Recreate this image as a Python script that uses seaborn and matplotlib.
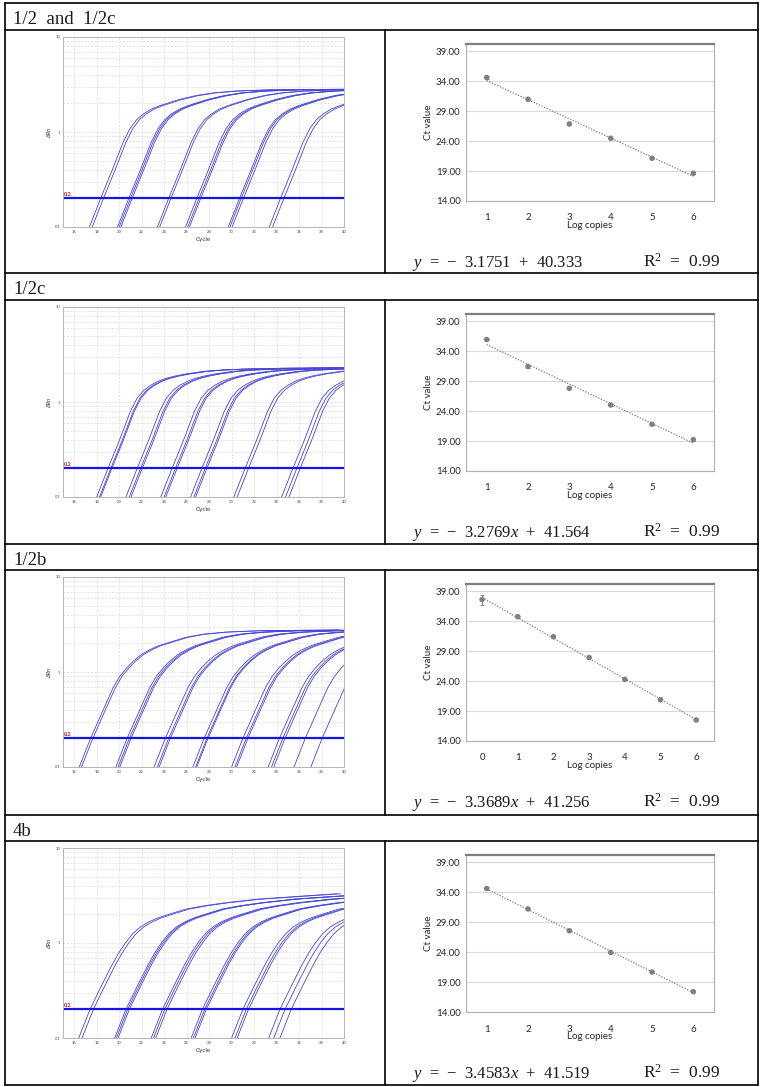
import numpy as np
import pandas as pd
import matplotlib
matplotlib.use('Agg')
import matplotlib.pyplot as plt
import seaborn as sns
from matplotlib.lines import Line2D
from matplotlib.ticker import LogLocator, NullFormatter, FormatStrFormatter

# ----
# Data
# ----
titles = ['1/2  and  1/2c', '1/2c', '1/2b', '4b']
eq_texts = [r'$y$  =  −  3.1751  +  40.333',
            r'$y$  =  −  3.2769$x$  +  41.564',
            r'$y$  =  −  3.3689$x$  +  41.256',
            r'$y$  =  −  3.4583$x$  +  41.519']
r2_text = r'R$^{2}$  =  0.99'

# amplification curve shape (cycles from the 0.2 crossing, dRn)
prof_offset = [-3, -1, 0, 1, 2, 2.6, 3.2, 3.8, 4.5, 5.2, 6, 7, 8.5, 10, 12, 15, 22]
prof_drn_1 = [0.025, 0.1, 0.2, 0.39, 0.78, 1.08, 1.35, 1.55, 1.74, 1.88, 2.02, 2.2,
              2.42, 2.58, 2.7, 2.78, 2.82]
prof_drn_2 = [0.025, 0.1, 0.2, 0.39, 0.8, 1.1, 1.33, 1.5, 1.66, 1.78, 1.88, 1.98,
              2.1, 2.17, 2.22, 2.26, 2.3]
prof_drn_3 = [0.027, 0.1, 0.2, 0.37, 0.68, 0.9, 1.1, 1.3, 1.52, 1.7, 1.88, 2.05,
              2.32, 2.5, 2.63, 2.72, 2.77]
prof_drn_4 = [0.035, 0.1, 0.2, 0.35, 0.6, 0.8, 1.02, 1.25, 1.48, 1.66, 1.83, 2.0,
              2.27, 2.45, 2.65, 2.9, 3.3]

# threshold crossing of each well
ct_amp_1 = [18.35, 18.6, 20.85, 21.0, 21.15, 24.4, 24.6, 26.9, 27.1, 27.25,
            30.7, 30.85, 31.05, 34.35, 34.65]
ct_amp_2 = [19.0, 19.25, 19.35, 21.6, 21.9, 22.05, 24.7, 25.0, 25.15, 27.35, 27.65,
            27.8, 31.2, 31.5, 35.45, 35.8, 36.1]
ct_amp_3 = [17.45, 17.65, 20.7, 20.9, 21.05, 24.1, 24.4, 24.55, 27.55, 27.8, 27.9,
            31.0, 31.3, 31.45, 34.25, 34.55, 34.75, 36.55, 38.05]
ct_amp_4 = [17.4, 17.7, 20.6, 20.75, 20.9, 23.85, 24.05, 24.25, 27.4, 27.6, 27.75,
            31.0, 31.3, 31.5, 34.3, 34.75, 35.3]

# standard curves
log_copies_1 = [1, 2, 3, 4, 5, 6]
ct_mean_1 = [34.6, 30.98, 26.86, 24.47, 21.13, 18.62]
ct_sd_1 = [0.2, 0.1, 0.1, 0.1, 0.1, 0.15]
log_copies_2 = [1, 2, 3, 4, 5, 6]
ct_mean_2 = [35.94, 31.43, 27.8, 25.02, 21.8, 19.23]
ct_sd_2 = [0.15, 0.2, 0.1, 0.1, 0.1, 0.15]
log_copies_3 = [0, 1, 2, 3, 4, 5, 6]
ct_mean_3 = [37.6, 34.75, 31.4, 27.93, 24.29, 20.88, 17.52]
ct_sd_3 = [0.84, 0.15, 0.1, 0.1, 0.1, 0.1, 0.1]
log_copies_4 = [1, 2, 3, 4, 5, 6]
ct_mean_4 = [34.6, 31.2, 27.56, 23.94, 20.67, 17.39]
ct_sd_4 = [0.3, 0.1, 0.1, 0.1, 0.1, 0.1]

amp_cts = [ct_amp_1, ct_amp_2, ct_amp_3, ct_amp_4]
profiles = [prof_drn_1, prof_drn_2, prof_drn_3, prof_drn_4]
std_x = [log_copies_1, log_copies_2, log_copies_3, log_copies_4]
std_y = [ct_mean_1, ct_mean_2, ct_mean_3, ct_mean_4]
std_sd = [ct_sd_1, ct_sd_2, ct_sd_3, ct_sd_4]

# ------
# Layout
# ------
sns.set_style('white')
plt.rcParams['font.family'] = ['Lato', 'DejaVu Sans']
plt.rcParams['mathtext.fontset'] = 'custom'
plt.rcParams['mathtext.rm'] = 'Liberation Serif'
plt.rcParams['mathtext.it'] = 'Liberation Serif:italic'

W, H = 765, 1087
fig = plt.figure(figsize=(W / 100, H / 100), dpi=100)


def fx(px):
    return px / W


def fy(py):
    return 1 - py / H


row_tops = [3, 273, 544, 815]
head_bots = [30, 300, 570, 841]
row_bots = [273, 544, 815, 1085]

# table lines
for y in sorted(set(row_tops + head_bots + row_bots)):
    fig.add_artist(Line2D([fx(5), fx(758)], [fy(y), fy(y)], color='black', lw=1.2))
for x in [5, 758]:
    fig.add_artist(Line2D([fx(x), fx(x)], [fy(3), fy(1085)], color='black', lw=1.2))
for hb, rb in zip(head_bots, row_bots):
    fig.add_artist(Line2D([fx(385), fx(385)], [fy(hb), fy(rb)], color='black', lw=1.2))

for i in range(4):
    top, hb = row_tops[i], head_bots[i]
    fig.text(fx(13), fy(top + 21), titles[i], fontsize=13.5, family='Liberation Serif',
             va='baseline', color='#1a1a1a')

    # amplification plot
    rows = []
    for w, ct in enumerate(amp_cts[i]):
        for off, d in zip(prof_offset, profiles[i]):
            rows.append({'cycle': ct + off, 'dRn': d, 'well': w})
    amp = pd.DataFrame(rows)
    ax = fig.add_axes([fx(63), fy(hb + 197), (344 - 63) / W, 190 / H])
    sns.lineplot(data=amp, x='cycle', y='dRn', units='well', estimator=None,
                 color='#4848d4', lw=0.6, ax=ax, legend=False)
    ax.set_yscale('log')
    ax.set_ylim(0.1, 10)
    ax.set_xlim(15, 40)
    ax.set_xticks(range(16, 41, 2))
    ax.set_yticks([0.1, 1, 10])
    ax.set_yticklabels(['0.1', '1', '10'])
    ax.yaxis.set_minor_locator(LogLocator(subs=np.arange(2, 10)))
    ax.yaxis.set_minor_formatter(NullFormatter())
    ax.grid(True, which='both', ls=(0, (3, 2)), color='#dadada', lw=0.5)
    ax.tick_params(labelsize=3, length=0, pad=2, colors='#444444')
    ax.tick_params(which='minor', length=0)
    ax.axhline(0.2, color='#1414e6', lw=1.6)
    ax.text(15.05, 0.205, '0.2', color='#cc1111', fontsize=4, fontweight='bold', va='bottom')
    ax.set_xlabel('Cycle', fontsize=4.5, labelpad=2, color='#333333')
    ax.set_ylabel('ΔRn', fontsize=4, labelpad=2, color='#333333')
    for s in ax.spines.values():
        s.set_color('#b4b4b4')
        s.set_linewidth(0.7)

    # standard curve
    std = pd.DataFrame({'Log copies': std_x[i], 'Ct value': std_y[i]})
    ax2 = fig.add_axes([fx(466), fy(hb + 171), (714 - 466) / W, 157 / H])
    ax2.grid(axis='y', color='#d9d9d9', lw=0.8)
    ax2.set_axisbelow(True)
    sns.regplot(data=std, x='Log copies', y='Ct value', scatter=False, ci=None, ax=ax2,
                line_kws=dict(color='#7a7a7a', ls=(0, (1, 1.3)), lw=0.9))
    ax2.errorbar(std_x[i], std_y[i], yerr=std_sd[i], fmt='none', ecolor='#7f7f7f',
                 elinewidth=0.7, capsize=1.6, capthick=0.7)
    sns.scatterplot(data=std, x='Log copies', y='Ct value', color='#808080', s=16,
                    edgecolor='none', ax=ax2, zorder=3)
    ax2.set_ylim(14, 40.2)
    ax2.set_xlim(min(std_x[i]) - 0.45 if min(std_x[i]) == 0 else 0.5, 6.5)
    ax2.set_xticks(std_x[i])
    ax2.set_yticks(np.arange(14, 40, 5))
    ax2.yaxis.set_major_formatter(FormatStrFormatter('%.2f'))
    ax2.tick_params(labelsize=7, length=0, pad=4, colors='#262626')
    ax2.tick_params(axis='x', pad=9)
    ax2.set_xlabel('Log copies', fontsize=7, labelpad=-1, color='#262626')
    ax2.set_ylabel('Ct value', fontsize=7, color='#262626')
    ax2.yaxis.set_label_coords(-0.135, 0.5)
    for s in ax2.spines.values():
        s.set_color('#b0b0b0')
        s.set_linewidth(0.8)
    ax2.spines['top'].set_color('#7f7f7f')
    ax2.spines['top'].set_linewidth(1.6)

    # fit text
    fig.text(fx(412), fy(hb + 237), eq_texts[i], fontsize=12, family='Liberation Serif',
             va='baseline', color='#1a1a1a')
    fig.text(fx(643), fy(hb + 237), r2_text, fontsize=12.5, family='Liberation Serif',
             va='baseline', color='#1a1a1a')

fig.savefig('out.png', dpi=100)
